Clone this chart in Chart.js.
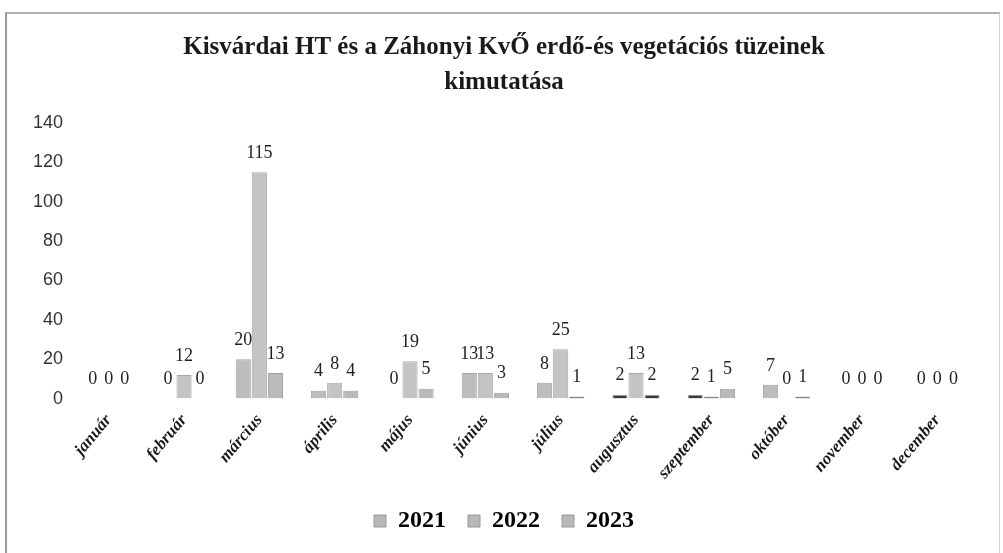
<!DOCTYPE html>
<html>
<head>
<meta charset="utf-8">
<script src="https://cdn.jsdelivr.net/npm/chart.js@4"></script>
<style>
	body { margin: 0; background: #fff; }
	#wrap {
		position: absolute;
		left: 5px; top: 12px;
		width: 995px; height: 541px;
		border-left: 2px solid #9a9a9a;
		border-top: 2px solid #b0b0b0;
		border-right: 1px solid #d0d0d0;
		box-sizing: border-box;
	}
	canvas { display: block; }
</style>
</head>
<body>
<div id="wrap"><canvas id="myChart" width="992" height="539"></canvas></div>
<script>
const months = ['január', 'február', 'március', 'április', 'május', 'június',
	'július', 'augusztus', 'szeptember', 'október', 'november', 'december']
const y2021 = [0, 0, 20, 4, 0, 13, 8, 2, 2, 7, 0, 0]
const y2022 = [0, 12, 115, 8, 19, 13, 25, 13, 1, 0, 0, 0]
const y2023 = [0, 0, 13, 4, 5, 3, 1, 2, 5, 1, 0, 0]
const yTicks = [0, 20, 40, 60, 80, 100, 120, 140]

// value labels above each bar
const valueLabels = {
	id: 'valueLabels',
	afterDatasetsDraw(chart) {
		const ctx = chart.ctx
		ctx.save()
		ctx.font = '18px "Liberation Serif", serif'
		ctx.fillStyle = '#222'
		ctx.textAlign = 'center'
		ctx.textBaseline = 'bottom'
		chart.data.datasets.forEach((ds, i) => {
			chart.getDatasetMeta(i).data.forEach((bar, j) => {
				ctx.fillText(ds.data[j], bar.x, bar.y - 10)
			})
		})
		ctx.restore()
	},
}

const barColor = (base) => (c) => {
	const v = c.raw
	return v > 0 && v <= 2 ? '#3a3a3a' : base
}

const ctx = document.getElementById('myChart').getContext('2d')
const myChart = new Chart(ctx, {
	type: 'bar',
	data: {
		labels: months,
		datasets: [
			{
				label: '2021',
				data: y2021,
				backgroundColor: barColor('#bdbdbd'),
				borderColor: '#a3a3a3',
				borderWidth: 1,
			},
			{
				label: '2022',
				data: y2022,
				backgroundColor: barColor('#c4c4c4'),
				borderColor: '#a8a8a8',
				borderWidth: 1,
			},
			{
				label: '2023',
				data: y2023,
				backgroundColor: barColor('#bababa'),
				borderColor: '#a0a0a0',
				borderWidth: 1,
			},
		],
	},
	options: {
		responsive: false,
		animation: false,
		devicePixelRatio: 1,
		layout: { padding: { left: 26, right: 24, top: 4, bottom: 10 } },
		datasets: { bar: { categoryPercentage: 0.64, barPercentage: 0.94 } },
		scales: {
			x: {
				grid: { display: false },
				border: { display: false },
				ticks: {
					minRotation: 50,
					maxRotation: 50,
					color: '#1a1a1a',
					padding: 4,
					font: { family: '"Liberation Serif", serif', size: 17, style: 'italic', weight: 'bold' },
				},
			},
			y: {
				min: 0,
				max: 140,
				grid: { display: false },
				border: { display: false },
				afterBuildTicks: (axis) => { axis.ticks = yTicks.map((v) => ({ value: v })) },
				ticks: {
					color: '#333',
					padding: 0,
					font: { family: '"Liberation Sans", sans-serif', size: 18 },
				},
			},
		},
		plugins: {
			title: {
				display: true,
				text: ['Kisvárdai HT és a Záhonyi KvŐ erdő-és vegetációs tüzeinek', 'kimutatása'],
				color: '#1a1a1a',
				font: { family: '"Liberation Serif", serif', size: 25, weight: 'bold', lineHeight: 1.4 },
				padding: { top: 12, bottom: 23 },
			},
			legend: {
				position: 'bottom',
				labels: {
					boxWidth: 12,
					boxHeight: 12,
					color: '#1a1a1a',
					padding: 22,
					font: { family: '"Liberation Serif", serif', size: 24, weight: 'bold' },
					generateLabels: (chart) => chart.data.datasets.map((ds, i) => ({
						text: ds.label,
						fillStyle: '#b8b8b8',
						strokeStyle: '#999',
						lineWidth: 1,
						datasetIndex: i,
					})),
				},
			},
			tooltip: { enabled: false },
		},
	},
	plugins: [valueLabels],
})
</script>
</body>
</html>
